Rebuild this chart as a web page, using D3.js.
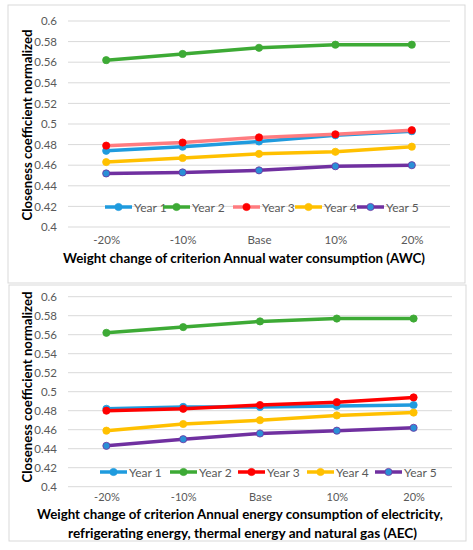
<!DOCTYPE html>
<html>
<head>
<meta charset="utf-8">
<script src="https://cdn.jsdelivr.net/npm/d3@7"></script>
<style>
  body { margin: 0; background: #fff; }
  svg { display: block; font-family: Lato, "Open Sans", sans-serif; }
</style>
</head>
<body>
<svg id="svg1" width="473" height="550"></svg>
<script>
// categories on x axis
var categories = ['-20%', '-10%', 'Base', '10%', '20%'];
var seriesNames = ['Year 1', 'Year 2', 'Year 3', 'Year 4', 'Year 5'];
var yTicks = [0.4, 0.42, 0.44, 0.46, 0.48, 0.5, 0.52, 0.54, 0.56, 0.58, 0.6];

// top chart: Annual water consumption (AWC)
var awcYear1 = [0.474, 0.478, 0.483, 0.489, 0.493];
var awcYear2 = [0.562, 0.568, 0.574, 0.577, 0.577];
var awcYear3 = [0.479, 0.482, 0.487, 0.490, 0.494];
var awcYear4 = [0.463, 0.467, 0.471, 0.473, 0.478];
var awcYear5 = [0.452, 0.453, 0.455, 0.459, 0.460];

// bottom chart: Annual energy consumption (AEC)
var aecYear1 = [0.482, 0.484, 0.484, 0.485, 0.486];
var aecYear2 = [0.562, 0.568, 0.574, 0.577, 0.577];
var aecYear3 = [0.480, 0.482, 0.486, 0.489, 0.494];
var aecYear4 = [0.459, 0.466, 0.470, 0.475, 0.478];
var aecYear5 = [0.443, 0.450, 0.456, 0.459, 0.462];

var lineColors = ['#1f9bde', '#3daa35', '#ff7c80', '#ffc000', '#7030a0'];
var markerColors = ['#1f9bde', '#3daa35', '#ff0000', '#ffc000', '#2a8fd6'];

var svg = d3.select('#svg1');

function drawPanel(p) {
    var g = svg.append('g');

    // panel border
    g.append('rect')
        .attr('x', p.box[0]).attr('y', p.box[1])
        .attr('width', p.box[2]).attr('height', p.box[3])
        .attr('fill', '#fff')
        .attr('stroke', '#d9d9d9')
        .attr('stroke-width', 1);

    var scaleX = d3.scalePoint().domain(categories).range([68, p.right]).padding(0.5);
    var scaleY = d3.scaleLinear().domain([0.4, 0.6]).range([p.bottom, p.top]);

    // gridlines
    g.selectAll('.grid')
        .data(yTicks)
        .enter()
        .append('line')
        .attr('x1', 68).attr('x2', p.right)
        .attr('y1', function(d){ return scaleY(d); })
        .attr('y2', function(d){ return scaleY(d); })
        .attr('stroke', '#d9d9d9')
        .attr('stroke-width', 1);

    // y axis labels
    var yAxis = d3.axisLeft(scaleY).tickValues(yTicks).tickSize(0).tickPadding(0)
        .tickFormat(function(d){ return String(+d.toFixed(2)); });
    var ya = g.append('g').attr('transform', 'translate(57,0)').call(yAxis);
    ya.select('.domain').remove();
    ya.selectAll('text').attr('fill', '#595959').style('font-size', '11.5px').style('font-family', 'Lato');

    // x axis labels
    var xAxis = d3.axisBottom(scaleX).tickSize(0).tickPadding(0);
    var xa = g.append('g').attr('transform', 'translate(0,' + p.xLabelY + ')').call(xAxis);
    xa.select('.domain').remove();
    xa.selectAll('text').attr('fill', '#595959').style('font-size', p.xLabelSize).style('font-family', 'Lato');

    // axis titles
    g.append('text')
        .attr('transform', 'translate(32,' + p.yTitleMid + ') rotate(-90)')
        .attr('text-anchor', 'middle')
        .attr('textLength', 191).attr('lengthAdjust', 'spacingAndGlyphs')
        .style('font-weight', 'bold').style('font-size', '14px')
        .text('Closeness coefficient normalized');

    p.xTitle.forEach(function(t){
        g.append('text')
            .attr('x', t.x).attr('y', t.y)
            .attr('textLength', t.len).attr('lengthAdjust', 'spacingAndGlyphs')
            .style('font-weight', 'bold').style('font-size', '14px')
            .text(t.text);
    });

    // lines + markers
    var line = d3.line()
        .x(function(d, i){ return scaleX(categories[i]); })
        .y(function(d){ return scaleY(d); });

    p.series.forEach(function(vals, s){
        g.append('path')
            .attr('d', line(vals))
            .attr('fill', 'none')
            .attr('stroke', p.lineColors[s])
            .attr('stroke-width', 3.5)
            .attr('stroke-linejoin', 'round');
        g.selectAll('.m' + s)
            .data(vals)
            .enter()
            .append('circle')
            .attr('cx', function(d, i){ return scaleX(categories[i]); })
            .attr('cy', function(d){ return scaleY(d); })
            .attr('r', 3.6)
            .attr('fill', p.markerColors[s])
            .attr('stroke', s == 4 ? '#7030a0' : p.markerColors[s])
            .attr('stroke-width', 0.8);
    });

    // legend
    var leg = g.append('g');
    seriesNames.forEach(function(name, s){
        var lx = p.legX[s];
        leg.append('line')
            .attr('x1', lx).attr('x2', lx + 27)
            .attr('y1', p.legY).attr('y2', p.legY)
            .attr('stroke', p.lineColors[s]).attr('stroke-width', 3.5);
        leg.append('circle')
            .attr('cx', lx + 13.5).attr('cy', p.legY).attr('r', 3.6)
            .attr('fill', p.markerColors[s])
            .attr('stroke', s == 4 ? '#7030a0' : p.markerColors[s])
            .attr('stroke-width', 0.8);
        leg.append('text')
            .attr('x', lx + 29).attr('y', p.legY + 4.5)
            .attr('fill', '#595959')
            .style('font-size', '12px')
            .text(name);
    });
}

drawPanel({
    box: [8, 5, 457, 278],
    top: 21, bottom: 227, right: 450,
    xLabelY: 236,
    xLabelSize: '11.5px',
    yTitleMid: 125,
    legY: 207,
    legX: [105, 163, 233, 295, 357],
    series: [awcYear1, awcYear2, awcYear3, awcYear4, awcYear5],
    lineColors: lineColors,
    markerColors: markerColors,
    xTitle: [{ x: 63, y: 263, len: 362, text: 'Weight change of criterion  Annual water consumption (AWC)' }]
});

drawPanel({
    box: [9, 285, 457, 256],
    top: 296.7, bottom: 486.7, right: 452,
    xLabelY: 493.5,
    xLabelSize: '11px',
    yTitleMid: 387,
    legY: 472,
    legX: [100, 170, 238, 307, 375],
    series: [aecYear1, aecYear2, aecYear3, aecYear4, aecYear5],
    lineColors: ['#1f9bde', '#3daa35', '#ff0000', '#ffc000', '#7030a0'],
    markerColors: markerColors,
    xTitle: [
        { x: 37, y: 519, len: 406, text: 'Weight change of criterion  Annual energy consumption of electricity,' },
        { x: 68, y: 537.5, len: 349, text: 'refrigerating  energy, thermal energy and natural gas  (AEC)' }
    ]
});
</script>
</body>
</html>
